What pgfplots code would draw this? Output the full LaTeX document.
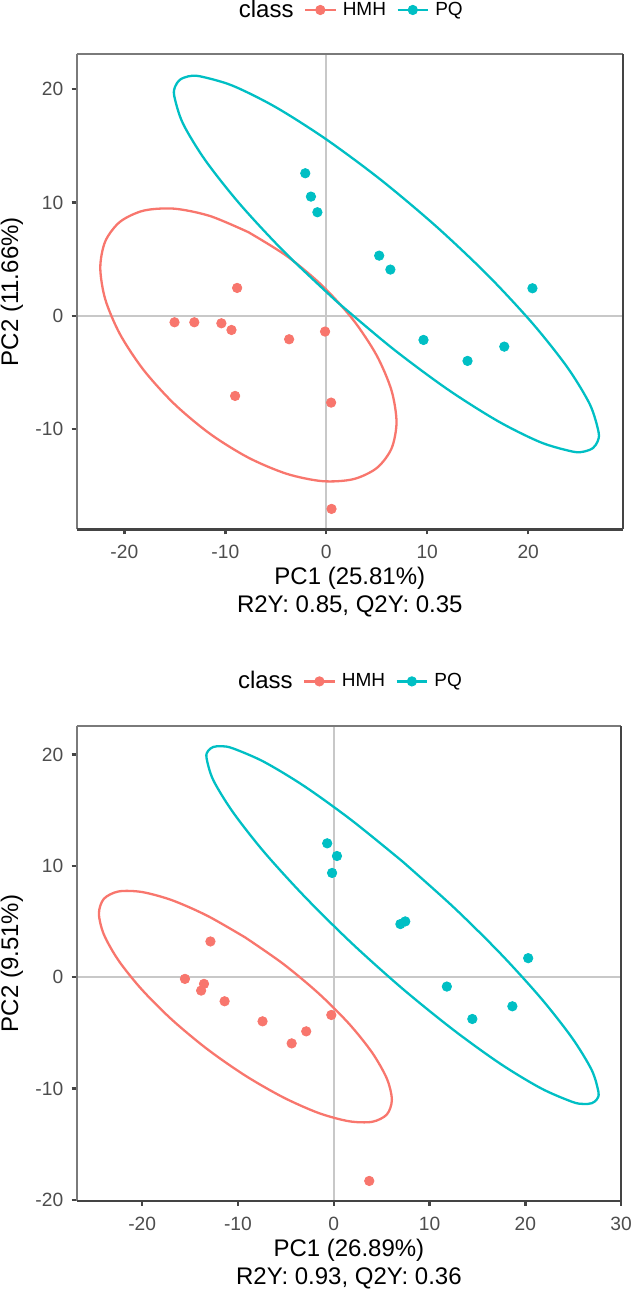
\documentclass[border=0pt]{standalone}
\usepackage{pgfplots}
\pgfplotsset{compat=1.18}
\usepackage{fontspec}
\setmainfont{Liberation Sans}
\definecolor{hmh}{HTML}{F8766D}
\definecolor{pq}{HTML}{00BFC4}
\definecolor{zeroline}{HTML}{C8C8C8}
\definecolor{framedark}{HTML}{444444}
\definecolor{framelight}{HTML}{7A7A7A}
\definecolor{ticktext}{HTML}{4D4D4D}

\pgfplotsset{
  pcastyle/.style={
    scale only axis,
    axis line style={draw=none},
    tick style={framedark, line width=1.2pt},
    tick align=outside,
    major tick length=2.5pt,
    xtick pos=bottom, ytick pos=left,
    xticklabel style={font=\fontsize{9.6}{11}\selectfont, text=ticktext, anchor=center, inner sep=0pt, yshift=-8.85pt},
    yticklabel style={font=\fontsize{9.6}{11}\selectfont, text=ticktext, anchor=east, inner sep=0pt, xshift=-4.05pt},
    xlabel style={font=\fontsize{12}{14}\selectfont, align=center, at={(axis description cs:0.5,0)}, anchor=center, yshift=-31.35pt},
    legend style={draw=none, fill=none, at={(0.5,1)}, anchor=center, yshift=22.15pt,
      font=\fontsize{9.5}{11}\selectfont, legend columns=-1,
      /tikz/every odd column/.append style={column sep=1pt},
      /tikz/every even column/.append style={column sep=3.2pt}},
    pt/.style={only marks, mark=*, mark size=2.35pt, forget plot},
    ell/.style={smooth, no marks, line width=1.15pt, forget plot},
    zl/.style={no marks, zeroline, line width=1.2pt, forget plot},
    after end axis/.code={
      \draw[framelight, line width=1.1pt] (rel axis cs:0,1) -- (rel axis cs:1,1);
      \draw[framelight, line width=1.1pt] (rel axis cs:0,0) -- (rel axis cs:0,1);
      \draw[framedark, line width=1.2pt] (rel axis cs:1,0) -- (rel axis cs:1,1);
      \draw[framedark, line width=1.4pt] (rel axis cs:0,0) -- (rel axis cs:1,0);
    },
  },
  hmhkey/.style={legend image code/.code={\draw[hmh, line width=1.15pt] (0pt,0pt) -- (15.25pt,0pt); \fill[hmh] (7.6pt,0pt) circle (2.35pt);}},
  pqkey/.style={legend image code/.code={\draw[pq, line width=1.15pt] (0pt,0pt) -- (15.25pt,0pt); \fill[pq] (7.6pt,0pt) circle (2.35pt);}},
}

\begin{document}
\begin{tikzpicture}
\useasboundingbox (0,0) rectangle (316pt,645pt);

% ---------------- Panel 1 ----------------
\begin{axis}[pcastyle,
  at={(38.35pt,617.85pt)}, anchor=north west,
  width=273.1pt, height=237.5pt,
  xmin=-24.72, xmax=29.38, ymin=-18.83, ymax=23.09,
  xtick={-20,-10,0,10,20}, xticklabels={-20,-10,0,10,20},
  ytick={-10,0,10,20}, yticklabels={-10,0,10,20},
  xlabel={PC1 (25.81\%)\\R2Y: 0.85, Q2Y: 0.35},
  ylabel={PC2 (11.66\%)},
  ylabel style={font=\fontsize{12}{13.2}\selectfont, at={(axis description cs:-0.1185,0.5)}, anchor=center},
]
\addplot[zl] coordinates {(0,-18.83) (0,23.09)};
\addplot[zl] coordinates {(-24.72,0) (29.38,0)};

\addplot[pt, hmh] coordinates {
(-8.83,2.47) (-15.03,-0.56) (-13.07,-0.56) (-10.39,-0.65) (-9.39,-1.24)
(-3.68,-2.06) (-0.12,-1.38) (-9.03,-7.06) (0.48,-7.65) (0.52,-17.03)};
\addplot[pt, pq] coordinates {
(-2.08,12.59) (-1.52,10.53) (-0.88,9.15) (5.24,5.32) (6.35,4.09)
(20.42,2.44) (9.63,-2.12) (13.99,-3.97) (17.63,-2.71)};

\addplot[ell, hmh] coordinates {
(-7.714,7.391) (-11.511,8.815) (-15.049,9.464) (-18.087,9.293) (-20.418,8.314)
(-21.884,6.595) (-22.384,4.252) (-21.884,1.445) (-20.418,-1.636) (-18.087,-4.779)
(-15.049,-7.770) (-11.511,-10.407) (-7.714,-12.509) (-3.917,-13.933) (-0.379,-14.582)
(2.659,-14.411) (4.990,-13.432) (6.456,-11.713) (6.956,-9.370) (6.456,-6.563)
(4.990,-3.482) (2.659,-0.339) (-0.379,2.652) (-3.917,5.289) (-7.714,7.391)};
\addplot[ell, pq] coordinates {
(1.06,1.25) (-4.07,5.57) (-8.51,9.82) (-11.97,13.72) (-14.20,16.99)
(-15.06,19.42) (-14.96,20.26) (-14.50,20.84) (-13.68,21.14) (-12.53,21.15)
(-9.31,20.33) (-5.04,18.44) (-0.03,15.60) (5.39,12.02) (10.85,7.93)
(15.98,3.61) (20.42,-0.65) (23.88,-4.54) (26.11,-7.81) (26.97,-10.25)
(26.87,-11.09) (26.41,-11.66) (25.59,-11.96) (24.44,-11.98) (21.22,-11.15)
(16.95,-9.26) (11.94,-6.43) (6.52,-2.84) (1.06,1.25)};

\addlegendimage{empty legend}
\addlegendentry{\fontsize{12}{13.2}\selectfont class}
\addlegendimage{hmhkey}
\addlegendentry{HMH}
\addlegendimage{pqkey}
\addlegendentry{PQ}
\end{axis}

% ---------------- Panel 2 ----------------
\begin{axis}[pcastyle,
  at={(38.35pt,282.15pt)}, anchor=north west,
  width=272.2pt, height=237.65pt,
  xmin=-26.83, xmax=30.0, ymin=-20.09, ymax=22.58,
  xtick={-20,-10,0,10,20,30}, xticklabels={-20,-10,0,10,20,30},
  ytick={-20,-10,0,10,20}, yticklabels={-20,-10,0,10,20},
  xlabel={PC1 (26.89\%)\\R2Y: 0.93, Q2Y: 0.36},
  ylabel={PC2 (9.51\%)},
  ylabel style={font=\fontsize{12}{13.2}\selectfont, at={(axis description cs:-0.1188,0.5)}, anchor=center},
]
\addplot[zl] coordinates {(0,-20.09) (0,22.58)};
\addplot[zl] coordinates {(-26.83,0) (30.0,0)};

\addplot[pt, hmh] coordinates {
(-12.87,3.21) (-15.53,-0.15) (-13.54,-0.60) (-13.84,-1.20) (-11.39,-2.16)
(-7.43,-3.96) (-2.87,-4.86) (-4.39,-5.94) (-0.25,-3.39) (3.71,-18.29)};
\addplot[pt, pq] coordinates {
(-0.68,12.02) (0.34,10.88) (-0.17,9.36) (6.96,4.77) (7.47,5.01)
(20.30,1.71) (11.81,-0.84) (14.47,-3.75) (18.65,-2.61)};

\addplot[ell, hmh] coordinates {
(-9.22,3.56) (-13.18,5.51) (-16.87,6.91) (-20.03,7.65) (-22.46,7.70)
(-23.99,7.04) (-24.51,5.72) (-23.99,3.83) (-22.46,1.50) (-20.03,-1.11)
(-16.87,-3.83) (-13.18,-6.47) (-9.22,-8.84) (-5.26,-10.79) (-1.58,-12.19)
(1.59,-12.93) (4.02,-12.98) (5.55,-12.32) (6.07,-11.00) (5.55,-9.11)
(4.02,-6.78) (1.59,-4.17) (-1.58,-1.45) (-5.26,1.19) (-9.22,3.56)};
\addplot[ell, pq] coordinates {
(7.18,10.39) (1.885,14.08) (-3.05,17.14) (-7.29,19.34) (-10.54,20.55)
(-11.72,20.74) (-12.58,20.67) (-13.11,20.32) (-13.28,19.70) (-12.58,17.71)
(-10.54,14.84) (-7.29,11.26) (-3.05,7.25) (1.885,3.05) (7.18,-1.03)
(12.48,-4.72) (17.41,-7.78) (21.65,-9.98) (24.90,-11.19) (26.08,-11.38)
(26.94,-11.31) (27.47,-10.96) (27.64,-10.34) (26.94,-8.35) (24.90,-5.47)
(21.65,-1.90) (17.41,2.12) (12.48,6.31) (7.18,10.39)};

\addlegendimage{empty legend}
\addlegendentry{\fontsize{12}{13.2}\selectfont class}
\addlegendimage{hmhkey}
\addlegendentry{HMH}
\addlegendimage{pqkey}
\addlegendentry{PQ}
\end{axis}
\end{tikzpicture}
\end{document}
